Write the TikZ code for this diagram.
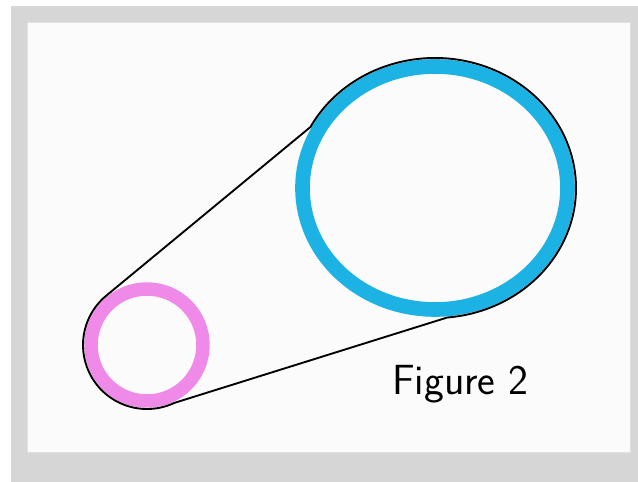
\documentclass[tikz,border=0pt]{standalone}
\definecolor{frame}{RGB}{214,214,214}
\definecolor{paper}{RGB}{251,251,251}
\definecolor{pinkink}{RGB}{240,138,232}
\definecolor{cyanink}{RGB}{28,178,228}
\begin{document}
\begin{tikzpicture}[x=0.03cm, y=0.03cm, line join=round, line cap=round,
  ring/.style={line width=11.5pt},
  belt/.style={black, line width=1.6pt},
  lab/.style={font=\fontsize{36}{42}\sffamily, anchor=base west, inner sep=0pt}
]
  \useasboundingbox (0,0) rectangle (638,482);
  \fill[frame] (11,0) rectangle (638,476);
  \filldraw[fill=paper, draw=black!12, line width=0.8pt] (27,30) rectangle (630,460);

  \coordinate (small) at (147,137);
  \coordinate (big) at (435,294);

  \draw[ring, pinkink] (small) circle[radius=56];
  \draw[ring, cyanink, line width=12.5pt] (big) ellipse[x radius=132.5, y radius=121.5];

  % belt round both wheels
  \path (small) ++(128:64) coordinate (st);
  \path (big) ++(152:141 and 130) coordinate (bt);
  \path (big) ++(-85:141 and 130) coordinate (bb);
  \path (small) ++(-65:64) coordinate (sb);
  \draw[belt] (st) -- (bt) arc[start angle=152, end angle=-85, x radius=141, y radius=130]
    -- (sb) arc[start angle=-65, end angle=-232, radius=64] -- cycle;

  \node[lab] (title) at (392,87) {Figure 2};
\end{tikzpicture}
\end{document}
